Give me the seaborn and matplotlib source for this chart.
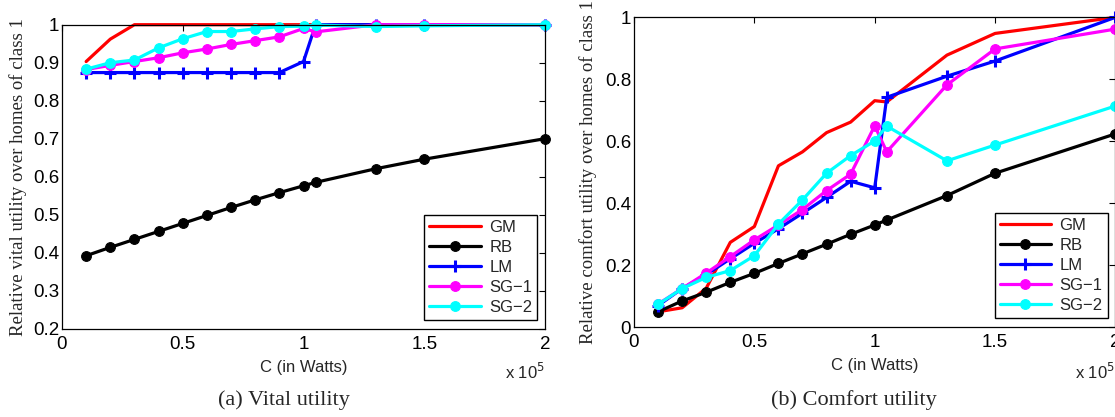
import numpy as np
import pandas as pd
import seaborn as sns
import matplotlib.pyplot as plt
from matplotlib.ticker import FuncFormatter

# ---------------------------------------------------------
# Data
# ---------------------------------------------------------
c_watts = [10000, 20000, 30000, 40000, 50000, 60000, 70000, 80000, 90000,
           100000, 105000, 130000, 150000, 200000]

series = ["GM", "RB", "LM", "SG\u22121", "SG\u22122"]

# (a) vital utility
vital_gm = [0.903, 0.962, 1.0, 1.0, 1.0, 1.0, 1.0, 1.0, 1.0, 1.0, 1.0, 1.0, 1.0, 1.0]
vital_rb = [0.392, 0.414, 0.435, 0.456, 0.477, 0.498, 0.519, 0.539, 0.558,
            0.576, 0.585, 0.621, 0.646, 0.700]
vital_lm = [0.874, 0.874, 0.874, 0.874, 0.874, 0.874, 0.874, 0.874, 0.874,
            0.903, 1.0, 1.0, 1.0, 1.0]
vital_sg1 = [0.882, 0.893, 0.903, 0.913, 0.926, 0.936, 0.948, 0.958, 0.968,
             0.990, 0.981, 1.0, 1.0, 1.0]
vital_sg2 = [0.883, 0.900, 0.907, 0.939, 0.963, 0.982, 0.982, 0.989, 0.995,
             0.996, 0.999, 0.995, 0.997, 1.0]

# (b) comfort utility
comf_gm = [0.050, 0.063, 0.126, 0.274, 0.325, 0.521, 0.566, 0.628, 0.662,
           0.731, 0.727, 0.878, 0.948, 1.0]
comf_rb = [0.050, 0.085, 0.113, 0.145, 0.174, 0.206, 0.237, 0.268, 0.300,
           0.330, 0.346, 0.425, 0.497, 0.624]
comf_lm = [0.070, 0.125, 0.170, 0.221, 0.271, 0.318, 0.368, 0.419, 0.471,
           0.450, 0.742, 0.810, 0.859, 1.0]
comf_sg1 = [0.075, 0.125, 0.175, 0.228, 0.282, 0.330, 0.380, 0.441, 0.494,
            0.650, 0.566, 0.782, 0.898, 0.962]
comf_sg2 = [0.074, 0.125, 0.161, 0.183, 0.231, 0.333, 0.411, 0.497, 0.554,
            0.601, 0.649, 0.537, 0.588, 0.714]

colors = {"GM": "#ff0000", "RB": "#000000", "LM": "#0000ff",
          "SG\u22121": "#ff00ff", "SG\u22122": "#00ffff"}
markers = {"GM": None, "RB": "o", "LM": "+", "SG\u22121": "o", "SG\u22122": "o"}

x = np.array(c_watts) / 1e5

# ---------------------------------------------------------
# Styling
# ---------------------------------------------------------
sns.set_style("white")
plt.rcParams["font.family"] = ["Liberation Sans", "DejaVu Sans"]
plt.rcParams["axes.linewidth"] = 0.9

fig = plt.figure(figsize=(11.15, 4.17), dpi=100)
ax1 = fig.add_axes([0.0556, 0.2118, 0.4332, 0.729])
ax2 = fig.add_axes([0.5686, 0.2151, 0.4318, 0.7434])

panels = [
    (ax1, [vital_gm, vital_rb, vital_lm, vital_sg1, vital_sg2], (0.2, 1.0),
     np.arange(0.2, 1.01, 0.1)),
    (ax2, [comf_gm, comf_rb, comf_lm, comf_sg1, comf_sg2], (0.0, 1.0),
     np.arange(0.0, 1.01, 0.2)),
]

fmt = FuncFormatter(lambda v, p: "%g" % round(v, 2))

for ax, ys, ylim, yticks in panels:
    for name, y in zip(series, ys):
        df = pd.DataFrame({"C": x, "U": y})
        mk = markers[name]
        col = colors[name]
        kw = {}
        if mk == "o":
            kw = dict(marker="o", markersize=7, markeredgecolor=col,
                      markeredgewidth=0.8)
        elif mk == "+":
            kw = dict(marker="+", markersize=9, markeredgecolor=col,
                      markeredgewidth=2.2)
        sns.lineplot(data=df, x="C", y="U", ax=ax, color=col,
                     linewidth=2.3, label=name, clip_on=False, **kw)
    ax.set_xlim(0, 2)
    ax.set_ylim(*ylim)
    ax.set_xticks([0, 0.5, 1, 1.5, 2])
    ax.set_yticks(yticks)
    ax.xaxis.set_major_formatter(fmt)
    ax.yaxis.set_major_formatter(fmt)
    ax.tick_params(direction="in", top=True, right=True, length=4, width=0.8,
                   labelsize=13.5, colors="black")
    ax.tick_params(axis="y", pad=2)
    ax.tick_params(axis="x", pad=5)
    ax.set_xlabel("C (in Watts)", fontsize=12, labelpad=5)
    ax.set_ylabel("")
    for s in ax.spines.values():
        s.set_color("black")
    leg = ax.legend(loc="lower right", bbox_to_anchor=(0.984, 0.03),
                    borderaxespad=0, fancybox=False, framealpha=1,
                    edgecolor="black", fontsize=12, handlelength=3.1,
                    labelspacing=0.3, borderpad=0.3, handletextpad=0.5)
    leg.get_frame().set_linewidth(1.0)
    ax.text(1.0, -0.11, r"x 10$^5$", transform=ax.transAxes, ha="right",
            va="top", fontsize=12)

serif = ["Liberation Serif", "DejaVu Serif"]
fig.text(18 / 1115, 1 - 176.7 / 417,
         "Relative vital utility over homes of class 1",
         rotation=90, ha="center", va="center", family=serif, fontsize=13.5)
fig.text(588 / 1115, 1 - 172.3 / 417,
         "Relative comfort utility over homes of class 1",
         rotation=90, ha="center", va="center", family=serif, fontsize=13.5)
fig.text(284 / 1115, 1 - 400 / 417, "(a) Vital utility",
         ha="center", va="center", family=serif, fontsize=16)
fig.text(854 / 1115, 1 - 400 / 417, "(b) Comfort utility",
         ha="center", va="center", family=serif, fontsize=16)

plt.savefig("out.png", dpi=100)
plt.close()
